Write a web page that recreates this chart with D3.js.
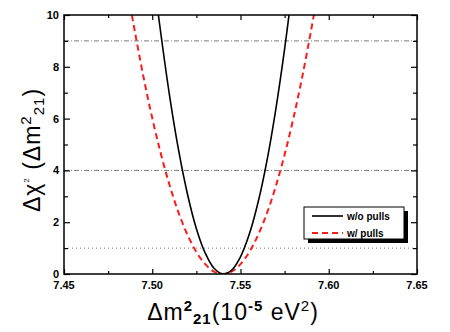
<!DOCTYPE html>
<html>
<head>
<meta charset="utf-8">
<script src="https://cdn.jsdelivr.net/npm/d3@7"></script>
<style>
  body { margin: 0; background: #fff; }
  svg { font-family: "Liberation Sans", Arial, sans-serif; }
</style>
</head>
<body>
<script>
// w/o pulls (black solid)
var noPullX = [7.5025, 7.504, 7.510, 7.515, 7.520, 7.525, 7.530, 7.535, 7.540, 7.545, 7.550, 7.555, 7.560, 7.565, 7.570, 7.575, 7.5785];
var noPullY = [10.55, 9.73, 6.80, 4.75, 3.07, 1.75, 0.81, 0.22, 0.00, 0.15, 0.66, 1.54, 2.78, 4.38, 6.36, 8.69, 10.55];
// w/ pulls (red dashed)
var pullX = [7.4875, 7.489, 7.495, 7.500, 7.505, 7.510, 7.515, 7.520, 7.525, 7.530, 7.535, 7.540, 7.545, 7.550, 7.555, 7.560, 7.565, 7.570, 7.575, 7.580, 7.585, 7.590, 7.5925];
var pullY = [10.37, 9.79, 7.62, 6.02, 4.61, 3.39, 2.35, 1.51, 0.85, 0.38, 0.09, 0.00, 0.09, 0.38, 0.85, 1.51, 2.35, 3.39, 4.61, 6.02, 7.62, 9.41, 10.37];
var xTicks = [7.45, 7.50, 7.55, 7.60, 7.65];
var yTicks = [0, 2, 4, 6, 8, 10];
var refLevels = [1, 4, 9];

var width = 450, height = 332;
var pLeft = 64, pRight = 417, pTop = 15, pBottom = 274;

var svg = d3.select("body").append("svg")
    .attr("width", width)
    .attr("height", height);

var x = d3.scaleLinear().domain([7.45, 7.65]).range([pLeft, pRight]);
var y = d3.scaleLinear().domain([0, 10]).range([pBottom, pTop]);

svg.append("clipPath").attr("id", "plot")
  .append("rect")
    .attr("x", pLeft).attr("y", pTop)
    .attr("width", pRight - pLeft).attr("height", pBottom - pTop);

// reference lines
svg.selectAll("line.ref")
    .data(refLevels)
    .enter()
    .append("line")
    .attr("class", "ref")
    .attr("x1", pLeft).attr("x2", pRight)
    .attr("y1", function(d) { return y(d); })
    .attr("y2", function(d) { return y(d); })
    .attr("stroke", "#7a7a7a")
    .attr("stroke-width", 1)
    .attr("stroke-dasharray", function(d) { return d == 1 ? "1,3" : "5,2,1,2"; });

var line = d3.line()
    .x(function(d) { return x(d[0]); })
    .y(function(d) { return y(d[1]); })
    .curve(d3.curveCatmullRom);

var g = svg.append("g").attr("clip-path", "url(#plot)");

g.append("path")
    .datum(pullX.map(function(v, i) { return [v, pullY[i]]; }))
    .attr("d", line)
    .attr("fill", "none")
    .attr("stroke", "#ff1a1a")
    .attr("stroke-width", 2)
    .attr("stroke-dasharray", "6,4");

g.append("path")
    .datum(noPullX.map(function(v, i) { return [v, noPullY[i]]; }))
    .attr("d", line)
    .attr("fill", "none")
    .attr("stroke", "#000")
    .attr("stroke-width", 1.6);

// axes (ticks inward)
var xMinor = [7.475, 7.525, 7.575, 7.625];
var yMinor = [1, 3, 5, 7, 9];

svg.append("g")
    .attr("transform", "translate(0," + pBottom + ")")
    .call(d3.axisTop(x).tickValues(xTicks).tickSize(5).tickFormat(""));
svg.append("g")
    .attr("transform", "translate(0," + pBottom + ")")
    .call(d3.axisTop(x).tickValues(xMinor).tickSize(3).tickFormat(""));
svg.append("g")
    .attr("transform", "translate(0," + pTop + ")")
    .call(d3.axisBottom(x).tickValues(xTicks).tickSize(5).tickFormat(""));
svg.append("g")
    .attr("transform", "translate(0," + pTop + ")")
    .call(d3.axisBottom(x).tickValues(xMinor).tickSize(3).tickFormat(""));
svg.append("g")
    .attr("transform", "translate(" + pLeft + ",0)")
    .call(d3.axisRight(y).tickValues(yTicks).tickSize(6).tickFormat(""));
svg.append("g")
    .attr("transform", "translate(" + pLeft + ",0)")
    .call(d3.axisRight(y).tickValues(yMinor).tickSize(4).tickFormat(""));
svg.append("g")
    .attr("transform", "translate(" + pRight + ",0)")
    .call(d3.axisLeft(y).tickValues(yTicks).tickSize(6).tickFormat(""));
svg.append("g")
    .attr("transform", "translate(" + pRight + ",0)")
    .call(d3.axisLeft(y).tickValues(yMinor).tickSize(4).tickFormat(""));

svg.selectAll(".domain").remove();
svg.selectAll(".tick line").attr("stroke", "#000").attr("stroke-width", 1.2);

svg.append("rect")
    .attr("x", pLeft).attr("y", pTop)
    .attr("width", pRight - pLeft).attr("height", pBottom - pTop)
    .attr("fill", "none")
    .attr("stroke", "#000")
    .attr("stroke-width", 1.5);

// tick labels
svg.selectAll("text.xl")
    .data(xTicks)
    .enter()
    .append("text")
    .attr("class", "xl")
    .attr("x", function(d) { return x(d); })
    .attr("y", 289)
    .attr("text-anchor", "middle")
    .attr("font-size", "11px")
    .attr("font-weight", "bold")
    .text(function(d) { return d.toFixed(2); });

svg.selectAll("text.yl")
    .data(yTicks)
    .enter()
    .append("text")
    .attr("class", "yl")
    .attr("x", pLeft - 5)
    .attr("y", function(d) { return y(d) + 4; })
    .attr("text-anchor", "end")
    .attr("font-size", "11px")
    .attr("font-weight", "bold")
    .text(function(d) { return d; });

// axis titles
var xt = svg.append("text")
    .attr("x", 233).attr("y", 320)
    .attr("text-anchor", "middle")
    .attr("font-size", "23px")
    .attr("letter-spacing", "1px");
xt.append("tspan").text("Δm");
xt.append("tspan").attr("font-size", "15px").attr("font-weight", "bold").attr("dy", -9).text("2");
xt.append("tspan").attr("font-size", "15px").attr("font-weight", "bold").attr("dy", 13).text("21");
xt.append("tspan").attr("dy", -4).text("(10");
xt.append("tspan").attr("font-size", "15px").attr("font-weight", "bold").attr("dy", -9).text("-5");
xt.append("tspan").attr("dy", 9).text(" eV");
xt.append("tspan").attr("font-size", "15px").attr("dy", -9).text("2");
xt.append("tspan").attr("dy", 9).text(")");

var yt = svg.append("text")
    .attr("transform", "translate(40,150) rotate(-90)")
    .attr("text-anchor", "middle")
    .attr("font-size", "23px")
    .attr("letter-spacing", "1px");
yt.append("tspan").text("Δχ");
yt.append("tspan").attr("font-size", "8px").attr("dy", -11).text("2");
yt.append("tspan").attr("dy", 11).text(" (Δm");
yt.append("tspan").attr("font-size", "15px").attr("dy", -9).text("2");
yt.append("tspan").attr("font-size", "15px").attr("dy", 13).text("21");
yt.append("tspan").attr("dy", -4).text(")");

// legend
var lg = svg.append("g").attr("transform", "translate(304,207)");
lg.append("rect").attr("x", 4).attr("y", 4).attr("width", 100).attr("height", 32).attr("fill", "#000");
lg.append("rect").attr("x", 0).attr("y", 0).attr("width", 100).attr("height", 32)
    .attr("fill", "#fff").attr("stroke", "#000").attr("stroke-width", 1);
lg.append("line").attr("x1", 8).attr("x2", 39).attr("y1", 9).attr("y2", 9)
    .attr("stroke", "#000").attr("stroke-width", 1.6);
lg.append("line").attr("x1", 8).attr("x2", 39).attr("y1", 26).attr("y2", 26)
    .attr("stroke", "#ff1a1a").attr("stroke-width", 2).attr("stroke-dasharray", "6,4");
lg.append("text").attr("x", 43).attr("y", 13).attr("font-size", "10px").attr("font-weight", "bold").text("w/o pulls");
lg.append("text").attr("x", 43).attr("y", 30).attr("font-size", "10px").attr("font-weight", "bold").text("w/ pulls");
</script>
</body>
</html>
